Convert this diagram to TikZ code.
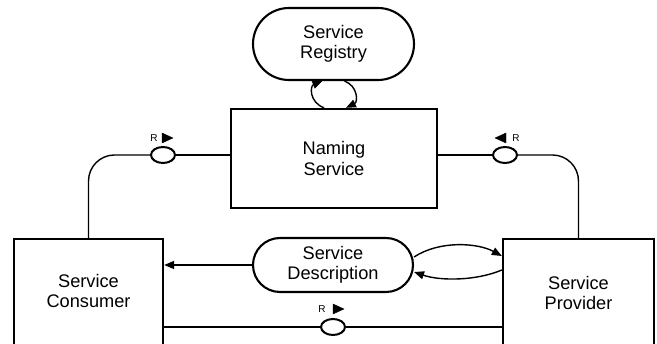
\documentclass[tikz,border=0pt]{standalone}
\usepackage{fontspec}
\setmainfont{Liberation Sans}
\usetikzlibrary{arrows.meta,shapes.geometric}
\begin{document}
\begin{tikzpicture}[x=1pt,y=-1pt,
  txt/.style={align=center,font=\fontsize{18.2}{20.5}\selectfont,inner sep=0pt},
  box/.style={draw,line width=2.3pt,inner sep=0pt,txt},
  pill/.style={draw,line width=2.1pt,inner sep=0pt,txt},
  port/.style={draw,ellipse,line width=2pt,fill=white,minimum width=24pt,minimum height=16pt,inner sep=0pt},
  conn/.style={line width=1.4pt},
  arr/.style={conn,-{Triangle[length=10pt,width=8pt]}},
  rlab/.style={font=\fontsize{10}{10}\selectfont,inner sep=0pt},
  tri/.style={fill=black,draw=black,line width=0.4pt}
]
\useasboundingbox (0,0) rectangle (657,344);
% nodes
\node[pill, minimum width=161pt, minimum height=72pt, rounded corners=36pt] (registry) at (333.5,44) {Service\\Registry};
\node[box, minimum width=206pt, minimum height=99pt] (naming) at (334,158.5) {Naming\\Service};
\node[pill, minimum width=160pt, minimum height=54pt, rounded corners=27pt] (desc) at (333,265) {Service\\Description};
\node[box, minimum width=149pt, minimum height=114pt] (consumer) at (88.5,296) {};
\node[txt] (consumertxt) at (88.5,291) {Service\\Consumer};
\node[box, minimum width=151pt, minimum height=114pt] (provider) at (578.5,296) {};
\node[txt] (providertxt) at (578.5,293) {Service\\Provider};
% loop between registry and naming
\draw[arr] ([xshift=-10pt]naming.north) .. controls (309,102) and (310,86) .. ([xshift=-11pt]registry.south);
\draw[arr] ([xshift=11pt]registry.south) .. controls (358,86) and (358,102) .. ([xshift=12pt]naming.north);
% ports
\node[port] (rL) at (163,155) {};
\node[port] (rR) at (505,155) {};
\node[port] (rB) at (333,327) {};
\draw[conn] (naming.west |- rL) -- (rL.east);
\draw[conn,rounded corners=26pt] (rL.west) -| (consumer.north);
\draw[conn] (naming.east |- rR) -- (rR.west);
\draw[conn,rounded corners=26pt] (rR.east) -| (provider.north);
\draw[conn] (consumer.east |- rB) -- (rB.west);
\draw[conn] (rB.east) -- (provider.west |- rB);
% port labels
\node[rlab] (rLt) at (154,138) {R};
\draw[tri] (162,133) -- (173,138) -- (162,143) -- cycle;
\node[rlab] (rRt) at (516,138) {R};
\draw[tri] (506,133) -- (495,138) -- (506,143) -- cycle;
\node[rlab] (rBt) at (322,309) {R};
\draw[tri] (333,304) -- (344,309) -- (333,314) -- cycle;
% description arrows
\draw[arr] (desc.west) -- (consumer.east |- desc.west);
\draw[arr] ([yshift=8pt]desc.east) .. controls (440,240) and (478,243) .. (provider.west |- 0,256);
\draw[arr] (provider.west |- 0,270) .. controls (476,281) and (440,281) .. ([yshift=-7pt]desc.east);
\end{tikzpicture}
\end{document}
